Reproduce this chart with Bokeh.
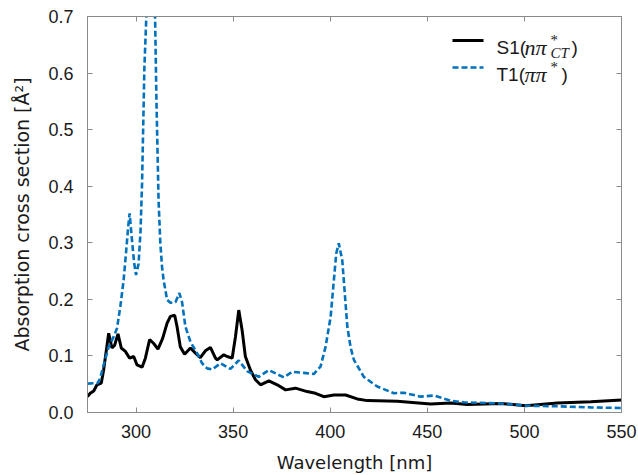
from bokeh.plotting import figure
from bokeh.models import LinearAxis, FixedTicker, Range1d, Label, Arrow, PrintfTickFormatter
from bokeh.embed import file_html
from bokeh.resources import INLINE

# ---- data ----
wl_s1 = [275, 276.4, 278.2, 279.9, 282.1, 283.3, 284.5, 285.9, 287.6, 289.0,
         290.7, 292.4, 294.5, 296.7, 298.8, 300.5, 303.1, 304.8, 307.0, 309.1,
         311.3, 313.7, 316.0, 317.7, 319.9, 321.1, 322.8, 325.0, 328.0, 330.6,
         333.1, 335.7, 338.3, 340.9, 341.8, 345.2, 346.9, 349.5, 351.2, 352.9,
         354.6, 356.3, 358.9, 361.5, 364.1, 368.4, 372.7, 377.0, 382.1, 388.1,
         392.4, 396.7, 401.9, 407.9, 413.9, 419.1, 434.5, 451.7, 462.0, 470.6,
         487.8, 500.7, 517.0, 534.2, 550.0]
abs_s1 = [0.028, 0.034, 0.038, 0.049, 0.052, 0.075, 0.105, 0.140, 0.114, 0.119,
          0.139, 0.114, 0.108, 0.096, 0.099, 0.084, 0.080, 0.096, 0.129, 0.122,
          0.112, 0.131, 0.158, 0.170, 0.172, 0.152, 0.116, 0.103, 0.114, 0.105,
          0.097, 0.109, 0.115, 0.096, 0.093, 0.102, 0.099, 0.096, 0.134, 0.181,
          0.146, 0.099, 0.075, 0.058, 0.049, 0.056, 0.049, 0.040, 0.043, 0.037,
          0.034, 0.028, 0.031, 0.031, 0.024, 0.021, 0.020, 0.015, 0.017, 0.014,
          0.016, 0.012, 0.017, 0.019, 0.022]

wl_t1 = [275, 280.2, 281.6, 283.3, 285.9, 288.5, 290.2, 291.9, 293.6, 294.5,
         296.0, 296.7, 297.9, 299.0, 300.0, 301.3, 302.3, 303.1, 304.3, 305.3,
         306.3, 307.5, 308.7, 309.8, 310.5, 311.6, 312.5, 313.4, 314.2, 316.0,
         317.7, 320.3, 322.3, 323.7, 325.4, 328.0, 331.4, 334.0, 336.6, 339.2,
         343.5, 348.6, 352.9, 357.2, 363.2, 368.4, 376.1, 380.4, 386.4, 391.5,
         395.0, 397.6, 400.2, 403.1, 404.4, 406.2, 408.8, 410.5, 412.2, 417.3,
         424.2, 432.8, 437.9, 446.5, 453.4, 462.0, 468.9, 487.8, 500.7, 517.0,
         534.2, 550.0]
abs_t1 = [0.051, 0.052, 0.061, 0.084, 0.116, 0.134, 0.149, 0.187, 0.234, 0.269,
          0.330, 0.352, 0.305, 0.265, 0.243, 0.263, 0.320, 0.405, 0.610, 0.700,
          0.900, 1.100, 0.900, 0.700, 0.552, 0.375, 0.300, 0.257, 0.234, 0.199,
          0.194, 0.195, 0.211, 0.195, 0.152, 0.125, 0.105, 0.087, 0.078, 0.076,
          0.087, 0.077, 0.092, 0.073, 0.063, 0.075, 0.062, 0.072, 0.070, 0.068,
          0.081, 0.116, 0.169, 0.281, 0.299, 0.269, 0.152, 0.115, 0.093, 0.063,
          0.046, 0.034, 0.035, 0.028, 0.030, 0.021, 0.018, 0.016, 0.012, 0.011,
          0.009, 0.008]

x_ticks = [300, 350, 400, 450, 500, 550]
y_ticks = [0.0, 0.1, 0.2, 0.3, 0.4, 0.5, 0.6, 0.7]
x_label = "Wavelength [nm]"
y_label = "Absorption cross section [Å²]"

FONT = "Liberation Sans"
LABEL_FONT = "DejaVu Sans"
MATH = "Liberation Serif"
GRAY = "#8a8a8a"
TXT = "#1a1a1a"
BLUE = "#0072BD"

p = figure(width=638, height=475, x_range=Range1d(275, 550), y_range=Range1d(0, 0.7),
           output_backend="svg", toolbar_location=None,
           min_border_left=87, min_border_right=17, min_border_top=16, min_border_bottom=62)
p.grid.visible = False
p.outline_line_color = GRAY
p.background_fill_color = "white"
p.border_fill_color = "white"

p.line(wl_s1, abs_s1, line_color="black", line_width=3)
p.line(wl_t1, abs_t1, line_color=BLUE, line_width=2.6, line_dash="6 3")

def style_axis(ax, ticks, show_labels=True):
    ax.ticker = FixedTicker(ticks=ticks)
    ax.major_tick_in = 5
    ax.major_tick_out = 0
    ax.minor_tick_line_color = None
    ax.axis_line_color = GRAY
    ax.major_tick_line_color = GRAY
    ax.major_label_text_font = FONT
    ax.major_label_text_color = TXT
    ax.axis_label_text_font = LABEL_FONT
    ax.axis_label_text_font_style = "normal"
    ax.axis_label_text_color = TXT
    if show_labels:
        ax.major_label_text_font_size = "18px"
    else:
        ax.major_label_text_font_size = "1px"
        ax.major_label_text_color = None
        ax.major_label_standoff = 0

style_axis(p.xaxis[0], x_ticks)
style_axis(p.yaxis[0], y_ticks)
p.xaxis[0].axis_label = x_label
p.yaxis[0].axis_label = y_label
p.xaxis[0].axis_label_text_font_size = "18px"
p.yaxis[0].axis_label_text_font_size = "19px"
p.xaxis[0].major_label_standoff = 12
p.yaxis[0].major_label_standoff = 14
p.xaxis[0].axis_label_standoff = 11
p.yaxis[0].axis_label_standoff = 12
p.yaxis[0].formatter = PrintfTickFormatter(format="%.1f")

ax_top = LinearAxis()
style_axis(ax_top, x_ticks, show_labels=False)
p.add_layout(ax_top, "above")
ax_right = LinearAxis()
style_axis(ax_right, y_ticks, show_labels=False)
p.add_layout(ax_right, "right")

# ---- legend (manual, screen units relative to the frame) ----
def lab(text, x, y, size="19px", font=FONT, style="normal"):
    p.add_layout(Label(x=x, y=y, x_units="screen", y_units="screen", text=text,
                       text_font=font, text_font_size=size, text_font_style=style,
                       text_color=TXT, text_baseline="alphabetic", text_align="left"))

p.add_layout(Arrow(end=None, x_start=365, y_start=372, x_end=396, y_end=372,
                   start_units="screen", end_units="screen",
                   line_color="black", line_width=3))
p.add_layout(Arrow(end=None, x_start=365, y_start=345, x_end=396, y_end=345,
                   start_units="screen", end_units="screen",
                   line_color=BLUE, line_width=2.6, line_dash="6 3"))

lab("S1(", 409, 365.5)
lab("nπ", 437, 365.5, size="22px", font=MATH, style="italic")
lab("*", 463, 373, size="15px", font=MATH)
lab("CT", 463, 360, size="15px", font=MATH, style="italic")
lab(")", 484, 365.5)

lab("T1(", 409, 338)
lab("ππ", 437, 338, size="22px", font=MATH, style="italic")
lab("*", 463, 345.5, size="15px", font=MATH)
lab(")", 474, 338)

open("out.html", "w").write(file_html(p, INLINE))
